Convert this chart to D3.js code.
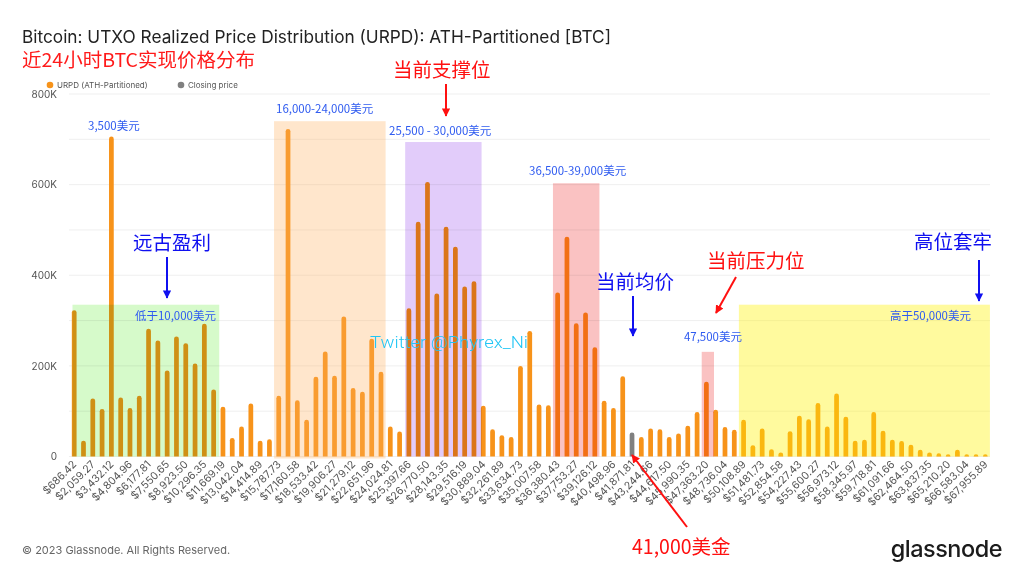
<!DOCTYPE html>
<html>
<head>
<meta charset="utf-8">
<script src="https://cdn.jsdelivr.net/npm/d3@7/dist/d3.min.js"></script>
<style>
  html, body { margin: 0; padding: 0; background: #fff; }
  svg { display: block; font-family: Inter, "Noto Sans", sans-serif; background: #fff; }
</style>
</head>
<body>
<svg id="chart" width="1024" height="576"></svg>
<script>
// URPD per price bucket (BTC), in thousands
var urpdK = [
  323, 35, 128, 105, 706, 130, 107, 134, 282, 256,
  190, 265, 250, 205, 293, 148, 110, 41, 66, 117,
  35, 38, 134, 723, 124, 81, 176, 232, 178, 309,
  151, 143, 260, 187, 66, 55, 327, 518, 606, 360,
  507, 463, 375, 387, 112, 60, 47, 43, 200, 277,
  115, 113, 362, 485, 294, 318, 241, 123, 107, 177,
  53, 43, 62, 60, 43, 51, 68, 98, 165, 103,
  65, 59, 81, 25, 62, 16, 9, 56, 90, 82,
  118, 66, 139, 88, 35, 37, 98, 57, 37, 34,
  26, 15, 9, 7, 2, 15, 1.5, 3, 3
];
// bucket holding the closing price
var closingBucket = 60;

// x tick labels, one every second bucket
var tickLabels = [
  '$686.42', '$2,059.27', '$3,432.12', '$4,804.96', '$6,177.81', '$7,550.65', '$8,923.50',
  '$10,296.35', '$11,669.19', '$13,042.04', '$14,414.89', '$15,787.73', '$17,160.58',
  '$18,533.42', '$19,906.27', '$21,279.12', '$22,651.96', '$24,024.81', '$25,397.66',
  '$26,770.50', '$28,143.35', '$29,516.19', '$30,889.04', '$32,261.89', '$33,634.73',
  '$35,007.58', '$36,380.43', '$37,753.27', '$39,126.12', '$40,498.96', '$41,871.81',
  '$43,244.66', '$44,617.50', '$45,990.35', '$47,363.20', '$48,736.04', '$50,108.89',
  '$51,481.73', '$52,854.58', '$54,227.43', '$55,600.27', '$56,973.12', '$58,345.97',
  '$59,718.81', '$61,091.66', '$62,464.50', '$63,837.35', '$65,210.20', '$66,583.04',
  '$67,955.89'
];
var yTicks = [0, 200000, 400000, 600000, 800000];

// highlighted zones: first bucket, last bucket, top (BTC), label
var zoneFrom  = [0, 22, 36, 52, 68, 72];
var zoneTo    = [15, 33, 43, 56, 68, 98];
var zoneTop   = [335000, 740000, 694000, 603000, 231000, 335000];
var zoneLabel = ['低于10,000美元', '16,000-24,000美元', '25,500 - 30,000美元', '36,500-39,000美元', '47,500美元', '高于50,000美元'];

var ORANGE = '#F7931A';
// overlay colour, opacity and blend per zone
var ZONE_COLORS  = ['#D6FACA', '#FFB060', '#E2CCFA', '#FAC2C2', '#FAC2C2', '#FFF200'];
var ZONE_OPACITY = [1, 0.32, 1, 1, 1, 0.38];
var ZONE_BLEND   = ['multiply', 'normal', 'multiply', 'multiply', 'multiply', 'normal'];

var svg = d3.select('#chart');
var x = d3.scaleBand().domain(d3.range(urpdK.length)).range([69.5, 990]).paddingInner(0.49).paddingOuter(0.25);
var y = d3.scaleLinear().domain([0, 800000]).range([456.5, 94]);

// grid
svg.append('g').selectAll('line')
  .data(d3.range(0, 800001, 100000))
  .enter().append('line')
  .attr('x1', 69).attr('x2', 990)
  .attr('y1', function(d){ return y(d); }).attr('y2', function(d){ return y(d); })
  .attr('stroke', '#efefef').attr('stroke-width', 1);

// y axis
var yAxis = svg.append('g')
  .attr('transform', 'translate(57,0)')
  .call(d3.axisLeft(y).tickValues(yTicks).tickSize(0).tickPadding(0)
    .tickFormat(function(d){ return d === 0 ? '0' : (d / 1000) + 'K'; }));
yAxis.select('.domain').remove();
yAxis.selectAll('text').attr('font-family', 'Inter, sans-serif').attr('font-size', 10).attr('fill', '#555');

// bars with rounded tops
function barPath(i){
  var x0 = x(i), w = x.bandwidth(), y0 = y(0), y1 = y(urpdK[i] * 1000);
  var r = Math.min(w / 2, y0 - y1);
  return 'M' + x0 + ',' + y0 + 'V' + (y1 + r)
    + 'A' + r + ',' + r + ' 0 0 1 ' + (x0 + w) + ',' + (y1 + r)
    + 'V' + y0 + 'Z';
}
svg.append('g').selectAll('path')
  .data(d3.range(urpdK.length))
  .enter().append('path')
  .attr('d', barPath)
  .attr('fill', function(i){ return i === closingBucket ? '#808080' : ORANGE; });

// zone overlays drawn over the bars
svg.append('g').selectAll('rect')
  .data(d3.range(zoneFrom.length))
  .enter().append('rect')
  .attr('x', function(i){ return x.step() * (zoneFrom[i]) + 69.5 + (i === 0 ? 3 : 0) + (i === 2 ? 1 : 0); })
  .attr('width', function(i){ return x.step() * (zoneTo[i] - zoneFrom[i] + 1) + (i === 4 ? 3 : 0) - (i === 0 ? 2 : 0) + (i === 2 ? 2 : 0); })
  .attr('y', function(i){ return y(zoneTop[i]); })
  .attr('height', function(i){ return y(0) - y(zoneTop[i]) + (i === 1 ? 2 : 0); })
  .attr('fill', function(i){ return ZONE_COLORS[i]; })
  .attr('fill-opacity', function(i){ return ZONE_OPACITY[i]; })
  .style('mix-blend-mode', function(i){ return ZONE_BLEND[i]; });

// x tick labels
svg.append('g').selectAll('text')
  .data(tickLabels)
  .enter().append('text')
  .attr('transform', function(d, j){ return 'translate(' + (x(j * 2) + x.bandwidth() / 2 + 3) + ',465) rotate(-45)'; })
  .attr('text-anchor', 'end')
  .attr('font-size', 10.6)
  .attr('fill', '#555')
  .text(function(d){ return d; });

// titles
svg.append('text').attr('x', 22).attr('y', 43)
  .attr('font-size', 17.2).attr('fill', '#222')
  .attr('textLength', 589).attr('lengthAdjust', 'spacingAndGlyphs')
  .text('Bitcoin: UTXO Realized Price Distribution (URPD): ATH-Partitioned [BTC]');
svg.append('text').attr('x', 22).attr('y', 67)
  .attr('font-family', '"Noto Sans CJK SC", sans-serif')
  .attr('font-size', 19).attr('fill', '#FF1A1A')
  .attr('textLength', 233).attr('lengthAdjust', 'spacingAndGlyphs')
  .text('近24小时BTC实现价格分布');

// legend
var legend = svg.append('g').attr('font-size', 8).attr('fill', '#555');
legend.append('circle').attr('cx', 50).attr('cy', 85).attr('r', 3.3).attr('fill', ORANGE);
legend.append('text').attr('x', 57).attr('y', 88).text('URPD (ATH-Partitioned)');
legend.append('circle').attr('cx', 181).attr('cy', 85).attr('r', 3.3).attr('fill', '#808080');
legend.append('text').attr('x', 188).attr('y', 88).text('Closing price');

// zone labels
var zoneLabelPos = [[216, 320, 'end'], [276, 113, 'start'], [389, 135, 'start'], [529, 175, 'start'], [742, 341, 'end'], [971, 320, 'end']];
svg.append('g').selectAll('text')
  .data(zoneLabel)
  .enter().append('text')
  .attr('x', function(d, i){ return zoneLabelPos[i][0]; })
  .attr('y', function(d, i){ return zoneLabelPos[i][1]; })
  .attr('text-anchor', function(d, i){ return zoneLabelPos[i][2]; })
  .attr('font-family', '"Noto Sans CJK SC", sans-serif')
  .attr('font-size', 11.5).attr('fill', '#2F5BF0')
  .text(function(d){ return d; });
svg.append('text').attr('x', 88).attr('y', 130)
  .attr('font-family', '"Noto Sans CJK SC", sans-serif')
  .attr('font-size', 11.5).attr('fill', '#2F5BF0')
  .text('3,500美元');

// arrow heads
var defs = svg.append('defs');
[['blueHead', '#1010F0'], ['redHead', '#FF1010']].forEach(function(m){
  defs.append('marker').attr('id', m[0])
    .attr('viewBox', '0 0 10 10').attr('refX', 9).attr('refY', 5)
    .attr('markerWidth', 4.2).attr('markerHeight', 4.2).attr('orient', 'auto')
    .attr('markerUnits', 'strokeWidth')
    .append('path').attr('d', 'M0,0L10,5L0,10Z').attr('fill', m[1]);
});

// big callouts
var callouts = [
  { t: '远古盈利', x: 133, y: 250, c: '#1010F0', a: [167, 257, 167, 298] },
  { t: '当前均价', x: 596, y: 289, c: '#1010F0', a: [633, 296, 633, 336] },
  { t: '高位套牢', x: 914, y: 249, c: '#1010F0', a: [979, 260, 979, 301] },
  { t: '当前支撑位', x: 393, y: 77, c: '#FF1010', a: [446, 84, 446, 116] },
  { t: '当前压力位', x: 707, y: 268, c: '#FF1010', a: [736, 277, 716, 313] },
  { t: '41,000美金', x: 632, y: 554, c: '#FF1010', a: [687, 527, 632, 455] }
];
callouts.forEach(function(o){
  svg.append('text').attr('x', o.x).attr('y', o.y)
    .attr('font-family', '"Noto Sans CJK SC", sans-serif')
    .attr('font-size', 19.5).attr('fill', o.c)
    .text(o.t);
  svg.append('line')
    .attr('x1', o.a[0]).attr('y1', o.a[1]).attr('x2', o.a[2]).attr('y2', o.a[3])
    .attr('stroke', o.c).attr('stroke-width', 2)
    .attr('marker-end', 'url(#' + (o.c === '#FF1010' ? 'redHead' : 'blueHead') + ')');
});

// watermark
svg.append('text').attr('x', 370).attr('y', 348)
  .attr('font-family', 'Roboto, sans-serif').attr('font-weight', 300)
  .attr('font-size', 17).attr('fill', '#22C6F5')
  .attr('textLength', 158).attr('lengthAdjust', 'spacingAndGlyphs')
  .text('Twitter @Phyrex_Ni');

// footer
svg.append('text').attr('x', 22).attr('y', 554)
  .attr('font-size', 11).attr('fill', '#666')
  .text('© 2023 Glassnode. All Rights Reserved.');
svg.append('text').attr('x', 1002).attr('y', 557)
  .attr('text-anchor', 'end')
  .attr('font-size', 23.5).attr('font-weight', 500).attr('fill', '#1b1b1b')
  .attr('letter-spacing', -0.5)
  .text('glassnode');
</script>
</body>
</html>
